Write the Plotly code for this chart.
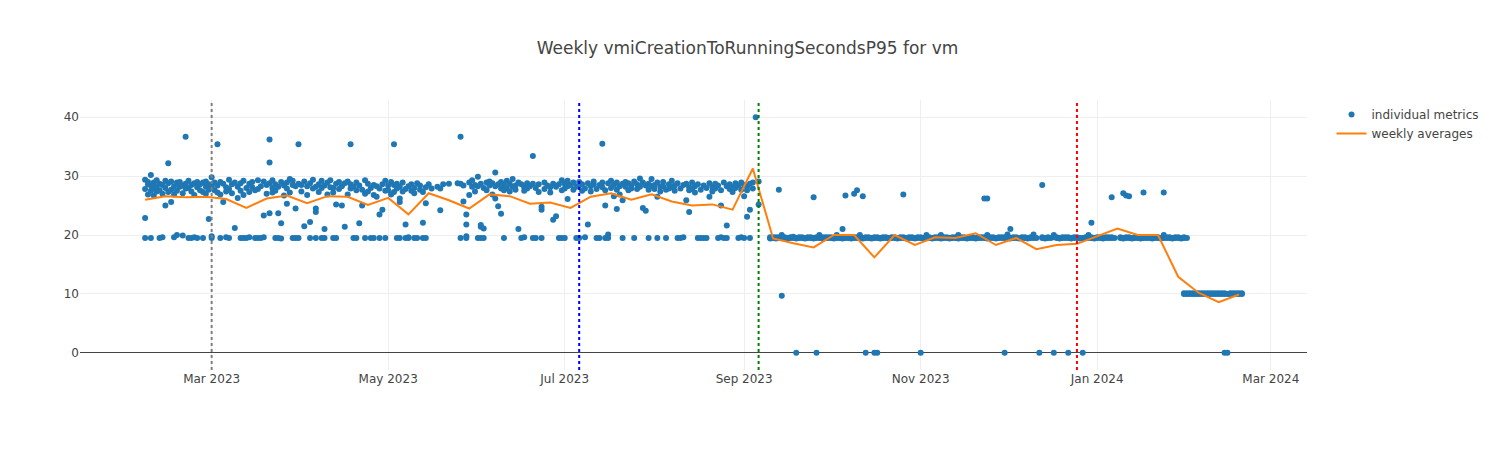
import pandas as pd
import plotly.graph_objects as go

TITLE = "Weekly vmiCreationToRunningSecondsP95 for vm"

# individual metric readings, one inner list per calendar day from the block start
feb_2023 = [  # from Feb 6
    [29.4, 27.8, 22.9, 19.5], [28.6, 26.9, 29.0], [30.2, 28.4, 27.5, 19.5], [28.9, 27.9, 26.7],
    [28.2, 29.3, 27.4], [28.7, 27.6, 19.5], [27.0, 28.5, 19.6], [29.2, 28.0, 25.0],
    [32.2, 28.8, 27.3], [29.1, 27.7, 25.6], [28.3, 26.9, 19.6], [28.9, 27.5, 20.0],
    [29.0, 28.2], [28.4, 27.1, 19.9], [36.7, 28.7, 27.9], [29.2, 28.0, 19.5],
    [28.5, 27.4, 19.5], [28.8, 26.8, 19.6], [28.1, 29.0, 19.5], [27.6, 28.6],
    [28.9, 27.3, 19.5], [28.2, 27.0, 29.1], [28.6, 27.7, 22.7],
]
mar_2023 = [
    [29.8, 28.3, 19.8, 19.5], [28.9, 27.6], [35.4, 28.4, 27.2], [29.0, 26.9, 19.5],
    [28.7, 25.6], [28.1, 27.4, 19.6], [29.4, 27.8, 19.5], [28.6, 27.1],
    [28.9, 21.2], [28.2, 26.3], [28.8, 27.5, 19.5], [29.2, 26.8, 19.5],
    [28.0, 19.5], [28.7, 27.3, 19.6], [29.0, 28.1], [27.6, 19.5],
    [29.3, 27.8, 19.5], [28.3, 19.5], [29.1, 23.3, 19.6], [28.5, 27.0],
    [28.8, 23.7, 36.2, 32.3], [29.3, 28.0, 27.2], [28.6, 27.5, 19.5], [28.2, 23.7, 19.5],
    [29.0, 22.0, 19.4], [28.4, 26.7], [28.9, 25.3, 27.9], [29.5, 27.2],
    [29.2, 28.5, 19.5], [28.3, 24.5, 19.5], [35.4, 28.7, 19.5],
]
apr_2023 = [
    [28.5, 27.4], [29.1, 21.5], [28.3, 26.8], [28.8, 22.2, 19.5],
    [29.4, 27.9], [28.2, 24.5, 23.9, 19.5], [28.6, 27.3], [29.2, 28.0, 19.5],
    [28.4, 21.0, 19.5], [28.9, 26.9], [29.3, 28.1], [28.0, 27.2, 19.5],
    [28.7, 25.2, 19.5], [29.0, 27.8], [28.3, 25.0], [28.8, 21.4],
    [29.1, 26.9], [35.4, 28.6, 27.9], [28.2, 19.5], [28.9, 27.6, 19.5],
    [28.4, 22.0], [27.7, 25.0], [29.3, 27.0, 19.5], [28.7, 27.4],
    [28.0, 19.5], [28.5, 26.8, 19.5], [28.3, 26.5], [27.9, 23.5, 19.5],
    [28.6, 24.3], [29.2, 27.5, 19.5],
]
may_2023 = [
    [28.4, 27.6], [29.0, 26.9], [35.4, 28.5, 27.3], [28.7, 27.9, 19.5],
    [28.2, 26.2, 25.6, 19.5], [28.9, 27.4], [27.8, 21.8, 19.5], [28.3, 19.5, 19.6],
    [27.5, 28.6], [28.0, 27.1, 19.5], [28.8, 19.5], [28.4, 27.7],
    [27.3, 22.1, 19.5], [28.1, 25.4, 19.5], [28.6], [27.9],
    [], [28.2], [24.2, 27.9], [28.6],
    [], [28.7], [], [],
    [28.8], [36.7, 28.7, 19.5], [25.7, 28.4], [23.5, 21.8, 19.8, 19.5],
    [28.9, 26.8], [29.3, 28.2], [28.5, 27.4],
]
jun_2023 = [
    [29.9, 28.3, 19.5], [28.7, 21.4, 21.7, 19.5], [28.0, 21.1, 19.5], [27.6, 28.9],
    [28.4, 29.1], [28.8, 26.9], [30.6, 26.2, 28.3], [24.9, 28.6],
    [23.6, 29.0, 27.9], [27.6, 28.5, 19.5], [29.2, 28.0], [28.7, 27.4],
    [29.5, 28.2], [28.4, 27.7], [21.0, 28.9], [28.6, 19.5],
    [28.1, 27.5, 19.6], [28.8, 27.9], [28.3], [33.4, 28.7, 19.5],
    [28.0, 19.5], [28.6, 27.3], [24.3, 24.8, 19.5], [28.9, 27.8],
    [28.4], [28.1, 27.2], [22.6, 28.7], [23.2, 28.2],
    [28.6, 19.5], [29.3, 27.6, 19.5],
]
jul_2023 = [
    [28.7, 27.9, 19.5], [26.1, 29.2, 28.3], [28.5], [28.9, 27.7],
    [28.2, 19.5], [29.0, 28.4, 19.5], [28.6, 27.5], [27.9, 19.6],
    [21.8, 28.8], [28.3, 27.4], [29.1, 28.6], [27.8, 19.5],
    [28.5, 19.5], [35.5, 28.9, 28.1], [25.0, 27.6, 19.5], [28.8, 20.1, 19.5],
    [29.2, 28.0], [26.6, 28.5], [24.4, 28.9, 27.7], [28.3, 26.9],
    [25.9, 28.7, 19.5], [29.0, 28.2], [27.6, 28.8], [28.4, 27.9],
    [29.1, 19.5], [28.6, 27.8], [29.6, 28.2], [24.6, 28.9],
    [24.1, 28.4], [28.7, 27.7, 19.5], [29.5, 28.3],
]
aug_2023 = [
    [28.5, 27.8], [26.5, 28.9, 19.5], [28.2, 27.4], [29.0, 28.3],
    [27.7, 19.5], [28.6, 27.9], [29.2, 28.1], [28.4, 27.5],
    [28.8, 19.5], [27.9, 19.5], [28.5, 19.6], [25.9, 28.7],
    [23.9, 28.1, 27.6], [28.9, 27.8], [28.3, 27.2], [28.6, 19.5],
    [27.7, 19.5], [28.4, 19.5], [28.0, 19.5], [26.5, 28.8],
    [28.2, 27.4], [28.7, 27.9], [28.4, 19.5], [25.0, 27.6, 19.6],
    [28.9, 19.5], [21.6, 28.3, 19.5], [28.6, 27.8], [28.1, 27.3],
    [28.8, 28.0], [28.4, 19.5], [28.9, 27.7, 19.6],
]
sep_2023 = [
    [26.6, 28.5, 19.5], [23.1, 28.2, 27.6], [24.3, 28.7, 19.5], [28.9, 27.9],
    [40.0], [29.1, 25.2], [], [],
    [], [19.5, 19.6, 19.4], [19.6, 19.5], [19.4, 19.6],
    [27.7, 19.5, 19.6], [9.7, 19.5, 19.7, 20.0], [19.5, 19.6], [19.4, 19.5],
    [19.6, 19.5], [19.5, 19.7], [0.0, 19.5, 19.4], [19.6, 19.5],
    [19.5, 19.6], [19.4, 19.5], [19.6, 19.5], [19.5, 19.6],
    [26.4, 19.5, 19.4], [0.0, 19.6, 19.5], [19.5, 19.7, 20.0], [19.4, 19.6],
    [19.5, 19.6], [19.6, 19.5],
]
oct_2023 = [
    [19.5, 19.6], [19.4, 19.5], [19.6, 19.5, 20.0], [19.5, 19.6],
    [21.0, 19.5, 19.4], [26.7, 19.6, 19.5], [19.5, 19.6], [19.4, 19.5],
    [27.0, 19.6, 19.5], [27.6, 19.5, 19.6], [19.5, 19.7, 20.0], [26.6, 19.5, 19.4],
    [0.0, 19.6, 19.5], [19.5, 19.6], [19.4, 19.5], [0.0, 19.6, 19.5],
    [0.0, 19.5, 19.6], [19.5, 19.4], [19.6, 19.5], [19.5, 19.6],
    [19.4, 19.5], [19.6, 19.5], [19.5, 19.6], [19.4, 19.5],
    [19.6, 19.5], [26.9, 19.5, 19.6], [19.5, 19.4], [19.6, 19.5],
    [19.5, 19.6], [19.4, 19.5], [19.6, 19.5],
]
nov_2023 = [
    [0.0, 19.5, 19.6], [19.5, 19.4], [19.6, 19.5, 20.0], [19.5, 19.6],
    [19.4, 19.5], [19.5, 19.6], [19.6, 19.5], [19.5, 19.4, 20.0],
    [19.6, 19.5], [19.5, 19.6], [19.4, 19.5], [19.6, 19.5],
    [19.5, 19.6], [19.4, 19.5, 20.0], [19.6, 19.5], [19.5, 19.6],
    [19.4, 19.5], [19.6, 19.5], [19.5, 19.6], [19.4, 19.5],
    [19.6, 19.5], [19.5, 19.6], [26.2, 19.5, 19.6], [26.2, 19.5, 19.4, 20.0],
    [19.6, 19.5], [19.5, 19.6], [19.4, 19.5], [19.6, 19.5],
    [19.5, 19.6], [0.0, 19.5, 19.6],
]
dec_2023 = [
    [19.5, 19.6, 20.1], [21.0, 19.5, 19.4], [19.6, 19.5], [19.5, 19.6],
    [19.4, 19.5], [19.6, 19.5], [19.5, 19.6], [19.4, 19.5],
    [19.6, 19.5], [20.1, 19.5], [19.5], [0.0],
    [28.5, 19.5, 19.6], [19.4, 19.5], [19.6, 19.5], [19.5],
    [0.0, 19.6, 20.0], [19.5, 19.6], [19.4, 19.5], [19.6, 19.5],
    [19.5, 19.6], [0.0, 19.5, 19.6], [19.4, 19.5], [19.6, 19.5],
    [19.5, 19.6], [19.4, 19.5], [0.0, 19.5, 19.4], [19.6, 19.5],
    [19.5, 20.0], [22.1, 19.5, 19.6], [19.4, 19.5],
]
jan_2024 = [
    [19.6, 19.5], [19.5, 19.6], [19.4, 19.5], [19.6, 19.5],
    [19.5, 19.6], [26.4, 19.5, 19.6], [19.5], [],
    [19.5, 19.6], [27.1, 19.5, 19.4], [26.7, 19.6, 19.5], [26.6, 19.5, 19.6],
    [19.4, 19.5], [19.6, 19.5], [19.5, 19.6], [19.4, 19.5],
    [27.2, 19.5, 19.6], [19.6, 19.5], [19.5, 19.6], [19.4, 19.5],
    [19.6, 19.5], [19.5, 19.6], [19.4, 19.5], [27.2, 20.0, 19.5, 19.6],
    [19.6, 19.5], [19.5, 19.6], [19.4, 19.5], [19.6, 19.5],
    [19.5, 19.6], [19.4, 19.5], [19.5, 19.6, 10.0, 10.1],
]
feb_2024 = [
    [19.5, 10.0, 10.1], [10.0, 10.1], [10.1, 10.0], [10.0, 10.1],
    [10.0, 10.1], [10.1, 10.0], [10.0, 10.1], [10.0, 10.1],
    [10.1, 10.0], [10.0, 10.1], [10.0, 10.1], [10.1, 10.0],
    [10.0, 10.1], [0.0, 10.0, 10.1], [0.0, 10.0], [10.0, 10.1],
    [10.1, 10.0], [10.0, 10.1], [10.0, 10.1], [10.1, 10.0],
]

metric_blocks = [
    ("2023-02-06", feb_2023), ("2023-03-01", mar_2023), ("2023-04-01", apr_2023),
    ("2023-05-01", may_2023), ("2023-06-01", jun_2023), ("2023-07-01", jul_2023),
    ("2023-08-01", aug_2023), ("2023-09-01", sep_2023), ("2023-10-01", oct_2023),
    ("2023-11-01", nov_2023), ("2023-12-01", dec_2023), ("2024-01-01", jan_2024),
    ("2024-02-01", feb_2024),
]

# weekly averages, one per week starting Monday 2023-02-06
weekly_avg = [
    26.0, 26.6, 26.4, 26.5, 26.1, 24.6, 26.2, 26.7, 25.4, 26.6, 26.5, 25.1,
    26.3, 23.5, 27.1, 25.9, 24.5, 26.9, 26.6, 25.3, 25.5, 24.6, 26.5, 27.1,
    26.0, 26.9, 25.7, 25.0, 25.2, 24.3, 31.3, 19.4, 18.6, 17.9, 20.0, 20.0,
    16.2, 20.0, 18.3, 19.6, 19.5, 20.3, 18.3, 19.5, 17.6, 18.3, 18.5, 19.8,
    21.1, 20.0, 20.0, 12.9, 10.2, 8.6, 9.9,
]

event_dates = ["2023-03-01", "2023-07-06", "2023-09-06", "2023-12-25"]
event_colors = ["grey", "blue", "green", "red"]

metric_x = []
metric_y = []
for start, days in metric_blocks:
    first = pd.Timestamp(start)
    for i, values in enumerate(days):
        for v in values:
            metric_x.append(first + pd.Timedelta(days=i))
            metric_y.append(v)

week_x = pd.date_range("2023-02-06", periods=len(weekly_avg), freq="7D")

fig = go.Figure()
fig.add_trace(
    go.Scatter(
        x=metric_x,
        y=metric_y,
        mode="markers",
        name="individual metrics",
        marker={"color": "#1f77b4", "size": 6},
    )
)
fig.add_trace(
    go.Scatter(
        x=week_x,
        y=weekly_avg,
        mode="lines",
        name="weekly averages",
        line={"color": "#ff7f0e", "width": 2},
    )
)
for d, c in zip(event_dates, event_colors):
    fig.add_vline(x=d, line_dash="dot", line_color=c, line_width=2)

# page body adds an 8px offset, so the fixed-size figure is trimmed to match
fig.update_layout(
    template="none",
    title={"text": TITLE, "x": 0.497},
    font={"family": "Verdana, DejaVu Sans, sans-serif"},
    width=1488,
    height=442,
    margin={"l": 72, "r": 80, "t": 92, "b": 80},
)
fig.write_html("out.html")
